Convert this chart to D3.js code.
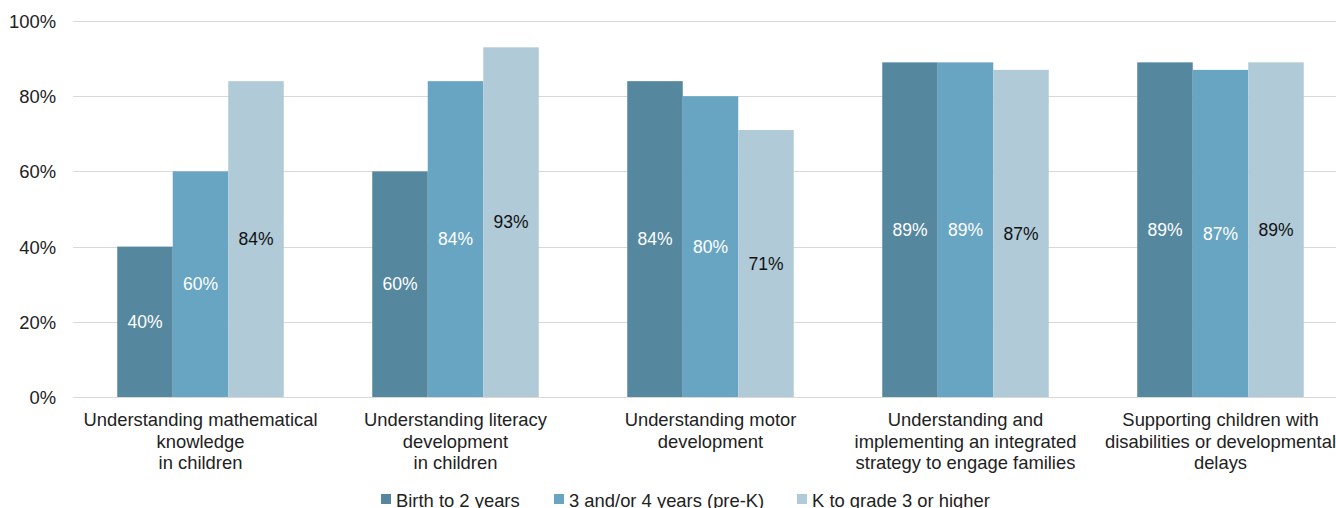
<!DOCTYPE html>
<html>
<head>
<meta charset="utf-8">
<title>Professional development needs by grade level</title>
<script src="https://cdn.jsdelivr.net/npm/d3@7"></script>
<style>
body { margin: 0; background: #fff; }
svg { display: block; font-family: "Liberation Sans", Arial, sans-serif; }
.grid line { stroke: #d9d9d9; stroke-width: 1; }
.axis text { fill: #222; font-size: 18.4px; }
</style>
</head>
<body>
<svg width="1336" height="508"></svg>
<script>
// data
var categories = [
  ["Understanding mathematical", "knowledge", "in children"],
  ["Understanding literacy", "development", "in children"],
  ["Understanding motor", "development"],
  ["Understanding and", "implementing an integrated", "strategy to engage families"],
  ["Supporting children with", "disabilities or developmental", "delays"]
];
var seriesNames = ["Birth to 2 years", "3 and/or 4 years (pre-K)", "K to grade 3 or higher"];
var birthTo2 = [40, 60, 84, 89, 89];
var preK = [60, 84, 80, 89, 87];
var kTo3 = [84, 93, 71, 87, 89];
var yTicks = [0, 20, 40, 60, 80, 100];

var colors = ["#55879e", "#68a5c3", "#b0cad8"];
var labelColors = ["#fff", "#fff", "#111"];
var seriesValues = [birthTo2, preK, kTo3];

var svg = d3.select("svg");
var plotLeft = 73, plotRight = 1348, plotTop = 21, plotBottom = 397;

var x0 = d3.scaleBand().domain(d3.range(categories.length)).range([plotLeft, plotRight]).padding(0);
var groupW = 166.5;
var x1 = d3.scaleBand().domain(d3.range(seriesNames.length))
  .range([(x0.bandwidth() - groupW) / 2, (x0.bandwidth() + groupW) / 2]).padding(0);
var y = d3.scaleLinear().domain([0, 100]).range([plotBottom, plotTop]);

// gridlines
svg.append("g").attr("class", "grid").selectAll("line").data(yTicks).enter().append("line")
  .attr("x1", plotLeft).attr("x2", 1336)
  .attr("y1", function(d) { return Math.round(y(d)) + 0.5; })
  .attr("y2", function(d) { return Math.round(y(d)) + 0.5; });

// y axis labels
var yAxis = svg.append("g").attr("class", "axis").attr("transform", "translate(" + plotLeft + ",0)")
  .call(d3.axisLeft(y).tickValues(yTicks).tickSize(0).tickPadding(17).tickFormat(function(d) { return d + "%"; }));
yAxis.select(".domain").remove();
yAxis.selectAll("text").attr("dy", "0.35em");

// bars
var rows = [];
for (var s = 0; s < seriesValues.length; s++) {
  for (var c = 0; c < categories.length; c++) {
    rows.push({s: s, c: c, v: seriesValues[s][c]});
  }
}
var bars = svg.append("g").selectAll("g").data(rows).enter().append("g");
bars.append("rect")
  .attr("x", function(d) { return x0(d.c) + x1(d.s); })
  .attr("width", x1.bandwidth())
  .attr("y", function(d) { return y(d.v); })
  .attr("height", function(d) { return y(0) - y(d.v); })
  .attr("fill", function(d) { return colors[d.s]; });
bars.append("text")
  .attr("x", function(d) { return x0(d.c) + x1(d.s) + x1.bandwidth() / 2; })
  .attr("y", function(d) { return (y(d.v) + y(0)) / 2; })
  .attr("dy", "0.35em")
  .attr("text-anchor", "middle")
  .style("font-size", "17.5px")
  .attr("fill", function(d) { return labelColors[d.s]; })
  .text(function(d) { return d.v + "%"; });

// category labels
var cat = svg.append("g").selectAll("text").data(categories).enter().append("text")
  .attr("text-anchor", "middle")
  .attr("x", function(d, i) { return x0(i) + x0.bandwidth() / 2; })
  .attr("y", 426)
  .style("font-size", "18.4px").attr("fill", "#222");
cat.selectAll("tspan").data(function(d) { return d; }).enter().append("tspan")
  .attr("x", function() { return d3.select(this.parentNode).attr("x"); })
  .attr("dy", function(d, i) { return i === 0 ? 0 : 21.5; })
  .text(function(d) { return d; });

// legend
var legendX = [381, 554, 797];
var legend = svg.append("g").selectAll("g").data(seriesNames).enter().append("g")
  .attr("transform", function(d, i) { return "translate(" + legendX[i] + ",494)"; });
legend.append("rect").attr("width", 10).attr("height", 10).attr("fill", function(d, i) { return colors[i]; });
legend.append("text").attr("x", 15).attr("y", 12.5).style("font-size", "18.4px").attr("fill", "#222")
  .text(function(d) { return d; });
</script>
</body>
</html>
